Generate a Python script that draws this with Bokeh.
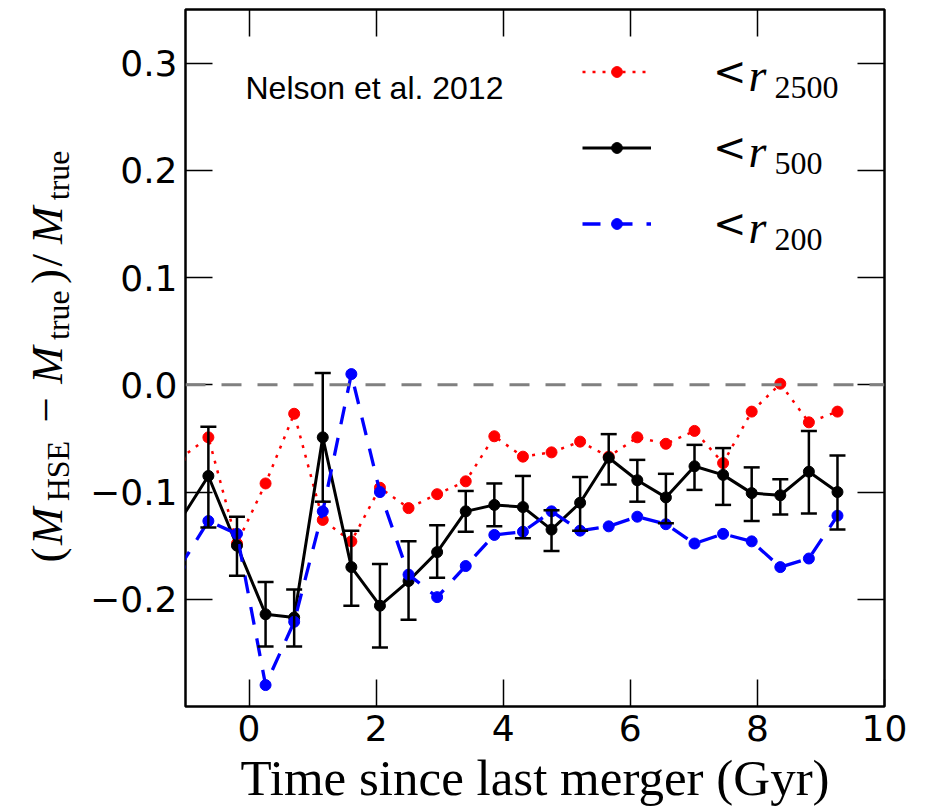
import math
from bokeh.plotting import figure
from bokeh.layouts import row
from bokeh.models import (Range1d, FixedTicker, CustomJSTickFormatter, LinearAxis, Span, Label,
                          Legend, LegendItem, Whisker, TeeHead, ColumnDataSource)
from bokeh.embed import file_html
from bokeh.resources import INLINE

# ---------------- data ----------------
time_gyr = [-1.09, -0.64, -0.19, 0.26, 0.71, 1.16, 1.61, 2.06, 2.51, 2.96, 3.41, 3.86,
            4.31, 4.76, 5.21, 5.66, 6.11, 6.56, 7.01, 7.46, 7.91, 8.36, 8.81, 9.26]

r2500 = [-0.069, -0.049, -0.148, -0.092, -0.027, -0.126, -0.146, -0.096, -0.115, -0.102,
         -0.090, -0.048, -0.067, -0.063, -0.053, -0.067, -0.049, -0.055, -0.043, -0.073,
         -0.025, 0.001, -0.035, -0.025]

r500 = [-0.127, -0.085, -0.150, -0.214, -0.217, -0.049, -0.170, -0.206, -0.183, -0.156,
        -0.118, -0.112, -0.114, -0.135, -0.110, -0.068, -0.089, -0.105, -0.076, -0.084,
        -0.101, -0.103, -0.081, -0.100]

# error bars exist for the visible r500 points (from t = -0.64 on)
err_time = time_gyr[1:]
r500_upper = [-0.039, -0.123, -0.184, -0.191, 0.011, -0.136, -0.167, -0.146, -0.131,
              -0.099, -0.092, -0.085, -0.117, -0.086, -0.046, -0.070, -0.083, -0.056,
              -0.059, -0.077, -0.088, -0.043, -0.066]
r500_lower = [-0.133, -0.178, -0.244, -0.244, -0.109, -0.206, -0.245, -0.219, -0.180,
              -0.137, -0.132, -0.143, -0.155, -0.136, -0.093, -0.109, -0.129, -0.098,
              -0.112, -0.127, -0.121, -0.120, -0.135]

r200 = [-0.170, -0.127, -0.139, -0.280, -0.221, -0.118, 0.010, -0.100, -0.177, -0.198,
        -0.169, -0.140, -0.137, -0.118, -0.136, -0.132, -0.123, -0.130, -0.148, -0.139,
        -0.146, -0.170, -0.162, -0.122]

x_ticks = [0, 2, 4, 6, 8, 10]
y_ticks = [-0.2, -0.1, 0.0, 0.1, 0.2, 0.3]
series_labels = ["2500", "500", "200"]

# ---------------- layout constants ----------------
LBL_W = 80
TOTAL_H = 806
FRAME_W, FRAME_H = 699, 697
TOP = 9

# ---------------- main figure ----------------
p = figure(frame_width=FRAME_W, frame_height=FRAME_H,
           x_range=Range1d(-1, 10), y_range=Range1d(-0.3, 0.35),
           output_backend="svg", toolbar_location=None,
           min_border_left=185 - LBL_W, min_border_top=TOP, min_border_right=34,
           min_border_bottom=TOTAL_H - TOP - FRAME_H)
p.xgrid.visible = False
p.ygrid.visible = False
p.outline_line_color = "black"
p.outline_line_width = 2.5
p.background_fill_color = "white"
p.border_fill_color = "white"

fmt_y = CustomJSTickFormatter(code="""
const s = Math.abs(tick).toFixed(1);
return tick < -1e-9 ? "\\u2212" + s : s;
""")
fmt_x = CustomJSTickFormatter(code="return tick.toFixed(0);")

def style_axis(ax, labels=True):
    ax.axis_line_color = None
    ax.major_tick_in = 27
    ax.major_tick_out = 0
    ax.minor_tick_in = 0
    ax.minor_tick_out = 0
    ax.major_tick_line_width = 1.5
    ax.major_tick_line_color = "black"
    if labels:
        ax.major_label_text_font = "DejaVu Sans"
        ax.major_label_text_font_size = "36px"
        ax.major_label_text_color = "black"
    else:
        ax.major_label_text_font_size = "1px"
        ax.major_label_text_color = None
        ax.major_label_standoff = 0

p.xaxis.ticker = FixedTicker(ticks=x_ticks)
p.xaxis.formatter = fmt_x
p.yaxis.ticker = FixedTicker(ticks=y_ticks)
p.yaxis.formatter = fmt_y
style_axis(p.xaxis[0])
style_axis(p.yaxis[0])
p.xaxis.major_label_standoff = 8
p.yaxis.major_label_standoff = 8

p.xaxis.axis_label = "Time since last merger (Gyr)"
p.xaxis.axis_label_text_font = "Liberation Serif"
p.xaxis.axis_label_text_font_size = "51px"
p.xaxis.axis_label_text_font_style = "normal"
p.xaxis.axis_label_text_color = "black"
p.xaxis.axis_label_standoff = 6

top_ax = LinearAxis(ticker=FixedTicker(ticks=x_ticks[:-1]))
style_axis(top_ax, labels=False)
p.add_layout(top_ax, "above")
right_ax = LinearAxis(ticker=FixedTicker(ticks=y_ticks))
style_axis(right_ax, labels=False)
p.add_layout(right_ax, "right")

# zero line
p.add_layout(Span(location=0, dimension="width", line_color="#808080",
                  line_width=3, line_dash="20 16"))

# ---------------- series ----------------
src = ColumnDataSource(dict(t=time_gyr, r2500=r2500, r500=r500, r200=r200))
err_src = ColumnDataSource(dict(t=err_time, up=r500_upper, lo=r500_lower))

red_line = p.line("t", "r2500", source=src, line_color="#ff0000", line_width=2.5,
                  line_dash="3 7")
red_pts = p.scatter("t", "r2500", source=src, size=11, color="#ff0000")

whisk = Whisker(source=err_src, base="t", upper="up", lower="lo", dimension="height",
                line_color="black", line_width=2.5, level="glyph",
                upper_head=TeeHead(size=16, line_width=2.5, line_color="black"),
                lower_head=TeeHead(size=16, line_width=2.5, line_color="black"))
p.add_layout(whisk)
blk_line = p.line("t", "r500", source=src, line_color="black", line_width=3)
blk_pts = p.scatter("t", "r500", source=src, size=11, color="black")

blue_line = p.line("t", "r200", source=src, line_color="#0000ff", line_width=3.3,
                   line_dash="18 14")
blue_pts = p.scatter("t", "r200", source=src, size=11, color="#0000ff")

# ---------------- legend ----------------
legend = Legend(items=[LegendItem(label="<", renderers=[red_line, red_pts]),
                       LegendItem(label="<", renderers=[blk_line, blk_pts]),
                       LegendItem(label="<", renderers=[blue_line, blue_pts])],
                location=(397, 457), glyph_width=69, glyph_height=27, label_height=52,
                label_standoff=62, spacing=24, padding=0, margin=0,
                border_line_color=None, background_fill_alpha=0,
                label_text_font="DejaVu Serif", label_text_font_size="40px",
                label_text_font_style="normal", label_text_color="black")
p.add_layout(legend)

for yb in [631, 555, 479]:
    p.add_layout(Label(x=563, y=yb, x_units="screen", y_units="screen", text="r",
                       text_font="Liberation Serif", text_font_size="46px",
                       text_font_style="italic",
                       text_align="left", text_baseline="alphabetic", text_color="black"))
for txt, yb in zip(series_labels, [619, 543, 467]):
    p.add_layout(Label(x=589, y=yb, x_units="screen", y_units="screen", text=txt,
                       text_font="Liberation Serif", text_font_size="32px",
                       text_align="left", text_baseline="alphabetic", text_color="black"))

p.add_layout(Label(x=60, y=619, x_units="screen", y_units="screen", text="Nelson et al. 2012",
                   text_font="Liberation Sans", text_font_size="32px",
                   text_align="left", text_baseline="alphabetic", text_color="black"))

# ---------------- y-axis label, composed in a narrow side panel ----------------
q = figure(width=LBL_W, height=TOTAL_H, x_range=Range1d(0, LBL_W), y_range=Range1d(0, TOTAL_H),
           x_axis_location=None, y_axis_location=None, min_border=0,
           output_backend="svg", toolbar_location=None)
q.outline_line_color = None
q.xgrid.visible = False
q.ygrid.visible = False
q.background_fill_color = "white"
q.border_fill_color = "white"

start = 142
base_main = 46
base_sub = 57
pieces = [("(", 0, "main", "normal"), ("M", 17.5, "main", "italic"),
          ("HSE", 61.2, "sub", "normal"), ("\u2212", 140.0, "main", "normal"),
          ("M", 178.8, "main", "italic"), ("true", 222.5, "sub", "normal"),
          (")", 278.6, "main", "normal"), ("/", 296.1, "main", "normal"),
          ("M", 318.6, "main", "italic"), ("true", 362.3, "sub", "normal")]
for txt, off, kind, style in pieces:
    q.add_layout(Label(x=base_main if kind == "main" else base_sub, y=start + off,
                       x_units="screen", y_units="screen", text=txt,
                       angle=math.pi / 2, angle_units="rad",
                       text_font="Liberation Serif",
                       text_font_size="45px" if kind == "main" else "32px",
                       text_font_style=style, text_align="left",
                       text_baseline="alphabetic", text_color="black"))

layout = row(q, p)
open("out.html", "w").write(file_html(layout, INLINE))
